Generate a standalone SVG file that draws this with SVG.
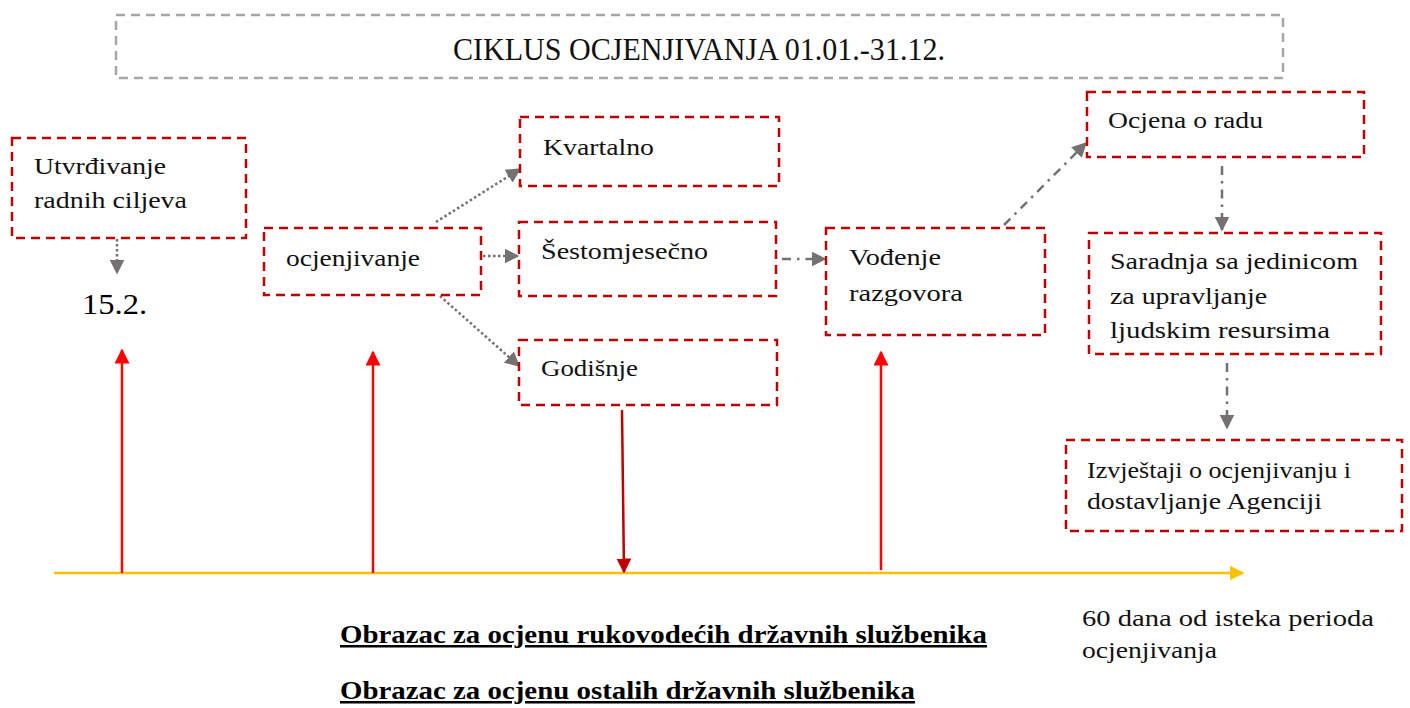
<svg xmlns="http://www.w3.org/2000/svg" width="1410" height="708" viewBox="0 0 1410 708">
<style>
.box{fill:#fff;stroke:#c00000;stroke-width:2.5;stroke-dasharray:9 6}
.t{font-family:"Liberation Serif","DejaVu Serif",serif;font-size:24px;fill:#111}
.dot{fill:none;stroke:#767171;stroke-width:2.5;stroke-dasharray:2.5 2.5}
.dd{fill:none;stroke:#767171;stroke-width:2.5;stroke-dasharray:9 6 2.5 6}
.red{stroke:#ff0000;stroke-width:2.5;fill:none}
.u{font-family:"Liberation Serif",serif;font-size:25px;font-weight:bold;fill:#000;text-decoration:underline}
</style>
<defs>
<marker id="ag" viewBox="0 0 10 10" refX="9" refY="5" markerWidth="6" markerHeight="6" markerUnits="strokeWidth" orient="auto"><path d="M0,0L10,5L0,10z" fill="#767171"/></marker>
<marker id="ar" viewBox="0 0 10 10" refX="9" refY="5" markerWidth="6" markerHeight="6" markerUnits="strokeWidth" orient="auto"><path d="M0,0L10,5L0,10z" fill="#ff0000"/></marker>
<marker id="adr" viewBox="0 0 10 10" refX="9" refY="5" markerWidth="6" markerHeight="6" markerUnits="strokeWidth" orient="auto"><path d="M0,0L10,5L0,10z" fill="#c00000"/></marker>
<marker id="ay" viewBox="0 0 10 10" refX="9" refY="5" markerWidth="6" markerHeight="6" markerUnits="strokeWidth" orient="auto"><path d="M0,0L10,5L0,10z" fill="#ffc000"/></marker>
</defs>
<rect width="1410" height="708" fill="#fff"/>
<g id="title">
<rect x="116" y="15" width="1167" height="63" fill="none" stroke="#a6a6a6" stroke-width="2.5" stroke-dasharray="9 6"/>
<text x="453" y="60" font-family="Liberation Serif,serif" font-size="32" fill="#111" textLength="492" lengthAdjust="spacingAndGlyphs">CIKLUS OCJENJIVANJA 01.01.-31.12.</text>
</g>
<g id="connectors">
<line class="dot" x1="117" y1="239" x2="117" y2="273" marker-end="url(#ag)"/>
<line class="dot" x1="436" y1="222" x2="520" y2="169" marker-end="url(#ag)"/>
<line class="dot" x1="483" y1="256" x2="518" y2="256" marker-end="url(#ag)"/>
<line class="dot" x1="440" y1="296" x2="519" y2="366" marker-end="url(#ag)"/>
<line class="dd" x1="782" y1="259" x2="825" y2="259" marker-end="url(#ag)"/>
<line class="dd" x1="1004" y1="225" x2="1086" y2="143" marker-end="url(#ag)"/>
<line class="dd" x1="1222" y1="166" x2="1222" y2="230" marker-end="url(#ag)"/>
<line class="dd" x1="1227" y1="363" x2="1227" y2="428" marker-end="url(#ag)"/>
<line x1="54" y1="573" x2="1243" y2="573" stroke="#ffc000" stroke-width="2.5" marker-end="url(#ay)"/>
<line class="red" x1="122" y1="573" x2="122" y2="350" marker-end="url(#ar)"/>
<line class="red" x1="373" y1="573" x2="373" y2="352" marker-end="url(#ar)"/>
<line class="red" x1="881" y1="570" x2="881" y2="352" marker-end="url(#ar)"/>
<line x1="622" y1="410" x2="624" y2="572" stroke="#c00000" stroke-width="2.5" marker-end="url(#adr)"/>
</g>
<g id="n-utvrdjivanje">
<rect class="box" x="12" y="138" width="234" height="100"/>
<text class="t" x="34" y="174" textLength="132" lengthAdjust="spacingAndGlyphs">Utvrđivanje</text>
<text class="t" x="34" y="208" textLength="153" lengthAdjust="spacingAndGlyphs">radnih ciljeva</text>
</g>
<g id="n-152">
<text x="82" y="314" font-family="Liberation Serif,serif" font-size="30" fill="#000" textLength="65" lengthAdjust="spacingAndGlyphs">15.2.</text>
</g>
<g id="n-ocjenjivanje">
<rect class="box" x="264" y="228" width="217" height="67"/>
<text class="t" x="286" y="266" textLength="134" lengthAdjust="spacingAndGlyphs">ocjenjivanje</text>
</g>
<g id="n-kvartalno">
<rect class="box" x="520" y="117" width="259" height="69"/>
<text class="t" x="543" y="155" textLength="111" lengthAdjust="spacingAndGlyphs">Kvartalno</text>
</g>
<g id="n-sestomjesecno">
<rect class="box" x="519" y="222" width="257" height="74"/>
<text class="t" x="541" y="259" textLength="167" lengthAdjust="spacingAndGlyphs">Šestomjesečno</text>
</g>
<g id="n-godisnje">
<rect class="box" x="519" y="340" width="258" height="65"/>
<text class="t" x="541" y="376" textLength="97" lengthAdjust="spacingAndGlyphs">Godišnje</text>
</g>
<g id="n-vodjenje">
<rect class="box" x="826" y="228" width="219" height="107"/>
<text class="t" x="849" y="265" textLength="92" lengthAdjust="spacingAndGlyphs">Vođenje</text>
<text class="t" x="849" y="301" textLength="114" lengthAdjust="spacingAndGlyphs">razgovora</text>
</g>
<g id="n-ocjena">
<rect class="box" x="1087" y="92" width="277" height="65"/>
<text class="t" x="1108" y="128" textLength="155" lengthAdjust="spacingAndGlyphs">Ocjena o radu</text>
</g>
<g id="n-saradnja">
<rect class="box" x="1089" y="233" width="292" height="121"/>
<text class="t" x="1110" y="269" textLength="248" lengthAdjust="spacingAndGlyphs">Saradnja sa jedinicom</text>
<text class="t" x="1110" y="304" textLength="157" lengthAdjust="spacingAndGlyphs">za upravljanje</text>
<text class="t" x="1110" y="338" textLength="220" lengthAdjust="spacingAndGlyphs">ljudskim resursima</text>
</g>
<g id="n-izvjestaji">
<rect class="box" x="1066" y="440" width="336" height="91"/>
<text class="t" x="1087" y="478" textLength="264" lengthAdjust="spacingAndGlyphs">Izvještaji o ocjenjivanju i</text>
<text class="t" x="1087" y="509" textLength="235" lengthAdjust="spacingAndGlyphs">dostavljanje Agenciji</text>
</g>
<g id="n-60dana">
<text class="t" x="1082" y="626" textLength="292" lengthAdjust="spacingAndGlyphs">60 dana od isteka perioda</text>
<text class="t" x="1082" y="658" textLength="135" lengthAdjust="spacingAndGlyphs">ocjenjivanja</text>
</g>
<g id="n-obrasci">
<text class="u" x="340" y="643" textLength="647" lengthAdjust="spacingAndGlyphs">Obrazac za ocjenu rukovodećih državnih službenika</text>
<text class="u" x="340" y="699" textLength="575" lengthAdjust="spacingAndGlyphs">Obrazac za ocjenu ostalih državnih službenika</text>
</g>
</svg>
